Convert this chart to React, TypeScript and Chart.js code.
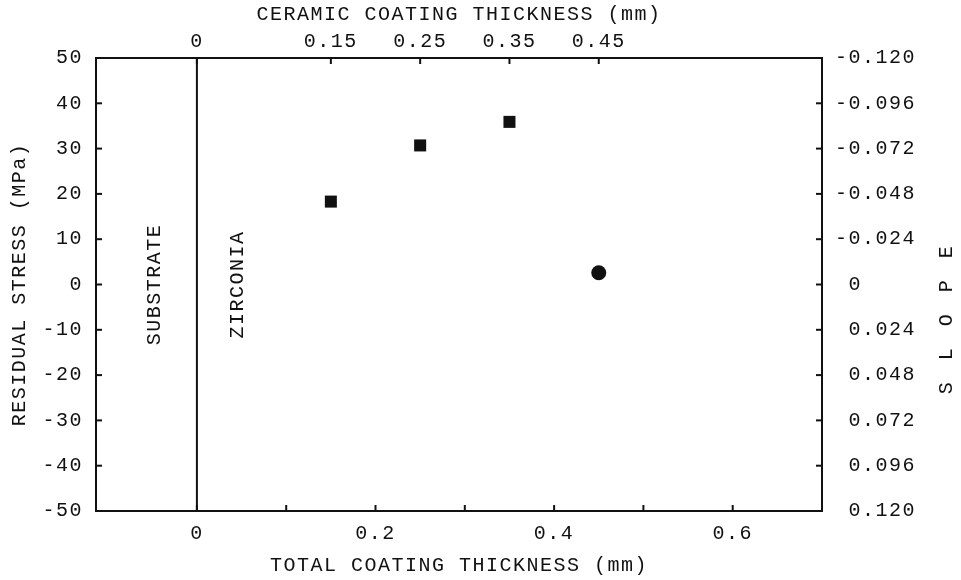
import React, { useEffect, useRef } from "react";
import { Chart, registerables } from "chart.js";

Chart.register(...registerables);

// ---- data ----
const ceramicThickness = [0.15, 0.25, 0.35];
const residualStress = [18.3, 30.7, 35.9];
const circleThickness = [0.45];
const circleStress = [2.6];

const bottomTicks = [0, 0.1, 0.2, 0.3, 0.4, 0.5, 0.6];
const bottomTickLabels = ["0", "", "0.2", "", "0.4", "", "0.6"];
const topTicks = [0, 0.15, 0.25, 0.35, 0.45];
const topTickLabels = ["0", "0.15", "0.25", "0.35", "0.45"];
const stressTicks = [-50, -40, -30, -20, -10, 0, 10, 20, 30, 40, 50];
const stressTickLabels = ["-50", "-40", "-30", "-20", "-10", "0", "10", "20", "30", "40", "50"];
const slopeTicks = [-0.12, -0.096, -0.072, -0.048, -0.024, 0, 0.024, 0.048, 0.072, 0.096, 0.12];
const slopeTickLabels = ["-0.120", "-0.096", "-0.072", "-0.048", "-0.024", " 0", " 0.024", " 0.048", " 0.072", " 0.096", " 0.120"];

const bottomTitle = "TOTAL COATING THICKNESS (mm)";
const topTitle = "CERAMIC COATING THICKNESS (mm)";
const leftTitle = "RESIDUAL STRESS (MPa)";
const rightTitle = ["S", "L", "O", "P", "E"];
const leftRegionLabel = "SUBSTRATE";
const rightRegionLabel = "ZIRCONIA";

const FONT = "'Liberation Mono', 'DejaVu Sans Mono', monospace";
const INK = "#111";
const font = { family: FONT, size: 20 };
const LW = 2;

const spacingPlugin = {
  id: "spacing",
  beforeLayout(chart: any) {
    chart.ctx.letterSpacing = "1.5px";
  },
  beforeDraw(chart: any) {
    chart.ctx.letterSpacing = "1.5px";
  },
};

const decorPlugin = {
  id: "decor",
  afterDatasetsDraw(chart: any) {
    const { ctx, chartArea: a, scales } = chart;
    const L = 6;
    ctx.save();
    ctx.strokeStyle = INK;
    ctx.lineWidth = LW;
    const line = (x1: number, y1: number, x2: number, y2: number) => {
      ctx.beginPath();
      ctx.moveTo(x1, y1);
      ctx.lineTo(x2, y2);
      ctx.stroke();
    };
    scales.x.ticks.forEach((t: any) => {
      const p = scales.x.getPixelForValue(t.value);
      line(p, a.bottom, p, a.bottom - L);
    });
    scales.x2.ticks.forEach((t: any) => {
      const p = scales.x2.getPixelForValue(t.value);
      line(p, a.top, p, a.top + L);
    });
    scales.y.ticks.forEach((t: any) => {
      const p = scales.y.getPixelForValue(t.value);
      line(a.left, p, a.left + L, p);
    });
    scales.y2.ticks.forEach((t: any) => {
      const p = scales.y2.getPixelForValue(t.value);
      line(a.right, p, a.right - L, p);
    });
    // substrate / coating interface
    const z = scales.x.getPixelForValue(0);
    line(z, a.top, z, a.bottom);

    // region labels
    ctx.fillStyle = INK;
    ctx.font = `20px ${FONT}`;
    ctx.letterSpacing = "1.5px";
    ctx.textAlign = "center";
    ctx.textBaseline = "middle";
    const yMid = scales.y.getPixelForValue(0);
    const drawRot = (text: string, x: number, y: number) => {
      ctx.save();
      ctx.translate(x, y);
      ctx.rotate(-Math.PI / 2);
      ctx.fillText(text, 0, 0);
      ctx.restore();
    };
    drawRot(leftRegionLabel, scales.x.getPixelForValue(-0.047), yMid);
    drawRot(rightRegionLabel, scales.x.getPixelForValue(0.046), yMid);

    // right axis title, letters spaced
    const sx = 947;
    const sy = yMid + 35;
    rightTitle.forEach((ch, i) => {
      drawRot(ch, sx, sy + (2 - i) * 34);
    });
    ctx.restore();
  },
};

export default function App() {
  const ref = useRef<HTMLCanvasElement | null>(null);
  useEffect(() => {
    if (!ref.current) return;
    const chart = new Chart(ref.current, {
      type: "scatter",
      data: {
        datasets: [
          {
            label: "Residual stress",
            data: ceramicThickness.map((x, i) => ({ x, y: residualStress[i] })),
            pointStyle: "rect",
            pointRadius: 8.5,
            backgroundColor: INK,
            borderColor: INK,
            borderWidth: 0,
            xAxisID: "x",
            yAxisID: "y",
          },
          {
            label: "Circle",
            data: circleThickness.map((x, i) => ({ x, y: circleStress[i] })),
            pointStyle: "circle",
            pointRadius: 7.5,
            backgroundColor: INK,
            borderColor: INK,
            borderWidth: 0,
            xAxisID: "x",
            yAxisID: "y",
          },
        ],
      },
      options: {
        animation: false,
        responsive: false,
        devicePixelRatio: 1,
        layout: { padding: 0 },
        plugins: { legend: { display: false }, tooltip: { enabled: false } },
        scales: {
          x: {
            type: "linear",
            position: "bottom",
            min: -0.113,
            max: 0.7,
            afterBuildTicks: (s: any) => {
              s.ticks = bottomTicks.map((v) => ({ value: v }));
            },
            afterFit: (s: any) => {
              s.height = 69;
            },
            ticks: {
              callback: (_v: any, i: number) => bottomTickLabels[i],
              font,
              color: INK,
              padding: 11,
              maxRotation: 0,
              autoSkip: false,
            },
            grid: { display: true, drawOnChartArea: false, drawTicks: false },
            border: { display: true, color: INK, width: LW },
            title: { display: true, text: bottomTitle, font, color: INK, padding: { top: 0, bottom: 2 } },
          },
          x2: {
            type: "linear",
            position: "top",
            display: true,
            min: -0.113,
            max: 0.7,
            afterBuildTicks: (s: any) => {
              s.ticks = topTicks.map((v) => ({ value: v }));
            },
            afterFit: (s: any) => {
              s.height = 58;
            },
            ticks: {
              callback: (_v: any, i: number) => topTickLabels[i],
              font,
              color: INK,
              padding: 4,
              maxRotation: 0,
              autoSkip: false,
            },
            grid: { display: true, drawOnChartArea: false, drawTicks: false },
            border: { display: true, color: INK, width: LW },
            title: { display: true, text: topTitle, font, color: INK, padding: { top: 3, bottom: 0 } },
          },
          y: {
            type: "linear",
            position: "left",
            min: -50,
            max: 50,
            afterBuildTicks: (s: any) => {
              s.ticks = stressTicks.map((v) => ({ value: v }));
            },
            afterFit: (s: any) => {
              s.width = 96;
            },
            ticks: {
              callback: (_v: any, i: number) => stressTickLabels[i],
              font,
              color: INK,
              padding: 13,
              autoSkip: false,
            },
            grid: { display: true, drawOnChartArea: false, drawTicks: false },
            border: { display: true, color: INK, width: LW },
            title: { display: true, text: leftTitle, font, color: INK, padding: { top: 8, bottom: 0 } },
          },
          y2: {
            type: "linear",
            position: "right",
            display: true,
            min: -0.12,
            max: 0.12,
            reverse: true,
            afterBuildTicks: (s: any) => {
              s.ticks = slopeTicks.map((v) => ({ value: v }));
            },
            afterFit: (s: any) => {
              s.width = 139;
            },
            ticks: {
              callback: (_v: any, i: number) => slopeTickLabels[i],
              font,
              color: INK,
              padding: 13,
              autoSkip: false,
            },
            grid: { display: true, drawOnChartArea: false, drawTicks: false },
            border: { display: true, color: INK, width: LW },
          },
        },
      },
      plugins: [spacingPlugin, decorPlugin],
    });
    return () => chart.destroy();
  }, []);
  return (
    <div style={{ position: "fixed", left: 0, top: 0, width: 961, height: 580, background: "#fff" }}>
      <canvas ref={ref} width={961} height={580} style={{ width: 961, height: 580, display: "block" }} />
    </div>
  );
}
